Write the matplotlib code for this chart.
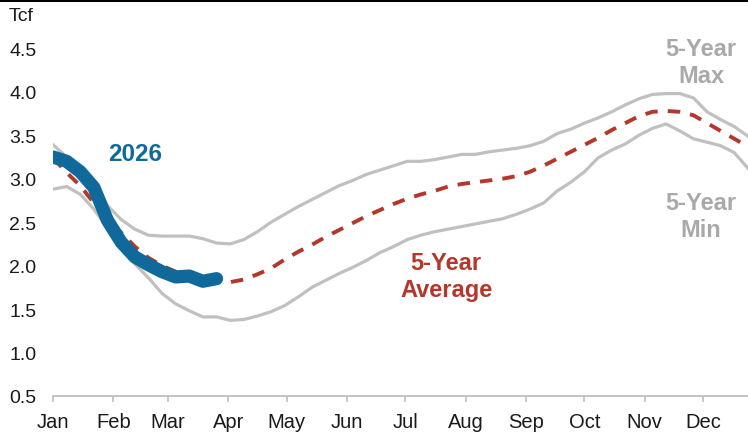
import numpy as np
import matplotlib.pyplot as plt
from matplotlib.lines import Line2D

plt.rcParams['font.family'] = ['Liberation Sans', 'DejaVu Sans']

# weekly points, day of year
days = np.arange(0, 358, 7)

five_yr_max = [3.39, 3.25, 3.10, 2.90, 2.69, 2.53, 2.42, 2.35, 2.34, 2.34,
               2.34, 2.31, 2.26, 2.25, 2.30, 2.39, 2.50, 2.59, 2.68, 2.76,
               2.84, 2.92, 2.98, 3.05, 3.10, 3.15, 3.20, 3.20, 3.22, 3.25,
               3.28, 3.28, 3.31, 3.33, 3.35, 3.38, 3.43, 3.52, 3.57, 3.64,
               3.70, 3.77, 3.85, 3.92, 3.97, 3.98, 3.98, 3.93, 3.77, 3.68,
               3.60, 3.49]

five_yr_avg = [3.24, 3.07, 2.92, 2.72, 2.55, 2.38, 2.22, 2.09, 2.00, 1.93,
               1.88, 1.84, 1.82, 1.81, 1.84, 1.90, 1.97, 2.07, 2.16, 2.24,
               2.33, 2.41, 2.49, 2.57, 2.64, 2.71, 2.77, 2.82, 2.86, 2.91,
               2.94, 2.96, 2.98, 3.00, 3.03, 3.08, 3.15, 3.23, 3.31, 3.39,
               3.47, 3.56, 3.64, 3.72, 3.77, 3.78, 3.77, 3.73, 3.64, 3.55,
               3.46, 3.37]

five_yr_min = [2.88, 2.91, 2.82, 2.65, 2.43, 2.22, 2.02, 1.86, 1.68, 1.56,
               1.48, 1.41, 1.41, 1.37, 1.38, 1.42, 1.47, 1.54, 1.64, 1.75,
               1.83, 1.91, 1.98, 2.06, 2.15, 2.22, 2.30, 2.35, 2.39, 2.42,
               2.45, 2.48, 2.51, 2.54, 2.59, 2.65, 2.72, 2.86, 2.96, 3.08,
               3.24, 3.33, 3.40, 3.50, 3.58, 3.63, 3.55, 3.46, 3.42, 3.38,
               3.30, 3.12]

y2026 = [3.25, 3.20, 3.08, 2.90, 2.52, 2.27, 2.10, 2.01, 1.93, 1.87,
         1.88, 1.82, 1.85]

month_starts = [0, 31, 59, 90, 120, 151, 181, 212, 243, 273, 304, 334]
month_labels = ['Jan', 'Feb', 'Mar', 'Apr', 'May', 'Jun',
                'Jul', 'Aug', 'Sep', 'Oct', 'Nov', 'Dec']

gray = '#c0c0c0'
gray_txt = '#a9a9a9'
red = '#b3382b'
blue = '#0f6a9b'

fig = plt.figure(figsize=(7.48, 4.35), dpi=100)
ax = fig.add_axes([0.0709, 0.0874, 0.929, 0.869])

ax.plot(days, five_yr_max, color=gray, lw=2.3, solid_joinstyle='round')
ax.plot(days, five_yr_min, color=gray, lw=2.3, solid_joinstyle='round')
ax.plot(days, five_yr_avg, color=red, lw=2.8, dashes=(3.2, 2.6))
ax.plot(days[:len(y2026)], y2026, color=blue, lw=9.5,
        solid_capstyle='round', solid_joinstyle='round')

ax.text(42, 3.29, '2026', color=blue, fontsize=17.5, fontweight='bold',
        ha='center', va='center')
ax.text(333, 4.34, '5-Year\nMax', color=gray_txt, fontsize=17,
        fontweight='bold', ha='center', va='center', linespacing=1.2)
ax.text(333, 2.57, '5-Year\nMin', color=gray_txt, fontsize=17,
        fontweight='bold', ha='center', va='center', linespacing=1.2)
ax.text(202, 1.88, '5-Year\nAverage', color=red, fontsize=17,
        fontweight='bold', ha='center', va='center', linespacing=1.2)

ax.set_xlim(0, 357)
ax.set_ylim(0.5, 4.85)
ax.set_yticks([0.5, 1.0, 1.5, 2.0, 2.5, 3.0, 3.5, 4.0, 4.5])
ax.set_yticklabels(['0.5', '1.0', '1.5', '2.0', '2.5', '3.0', '3.5',
                    '4.0', '4.5'])
ax.set_xticks(month_starts)
ax.set_xticklabels(month_labels)

for s in ['top', 'right', 'left']:
    ax.spines[s].set_visible(False)
ax.spines['bottom'].set_color('#bfbfbf')
ax.spines['bottom'].set_linewidth(1.3)
ax.tick_params(axis='y', length=0, pad=12, labelsize=14, colors='#1a1a1a')
ax.tick_params(axis='x', length=4.5, width=1.2, color='#bfbfbf', pad=7,
               labelsize=14.5, labelcolor='#1a1a1a')

fig.text(0.011, 0.962, 'Tcf', fontsize=14, color='#1a1a1a', ha='left',
         va='center')
fig.add_artist(Line2D([0, 1], [0.997, 0.997], color='black', lw=2.2,
                      transform=fig.transFigure))

fig.savefig('out.png', dpi=100)
